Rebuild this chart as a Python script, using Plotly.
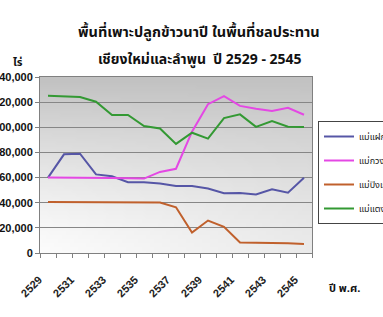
import base64, struct, zlib
import numpy as np
import plotly.graph_objects as go

years = list(range(2529, 2546))
mae_faek = [60000, 78500, 79000, 62500, 61000, 56300, 56300, 55200, 53300, 53300, 51300, 47500, 47700, 46600, 50700, 48000, 59800]
mae_kuang = [60000, 60000, 60000, 59800, 59600, 59400, 59200, 64500, 67000, 96500, 118400, 124800, 117000, 114700, 113000, 115500, 110000]
mae_ping_kao = [40500, 40500, 40500, 40300, 40200, 40200, 40300, 40200, 36400, 16300, 25800, 20800, 8300, 8300, 8300, 7700, 7200]
mae_taeng = [125000, 124500, 124000, 120300, 109800, 109800, 101000, 99000, 86800, 95700, 91000, 107300, 110300, 100300, 105000, 100400, 100200]
names = ["แม่แฝกใหม่", "แม่กวง", "แม่ปิงเก่า", "แม่แตง"]
colors = ["#5656a6", "#e448e4", "#c0602c", "#339933"]
yticks = list(range(0, 140001, 20000))
xlabels = years[::2]

# background gradient image for plot area
W, H = 68, 44
xs = np.linspace(0, 1, W)[None, :]
ys = np.linspace(0, 1, H)[:, None]
b = 252 - 58 * (1 - ys) ** 1.3 - 18 * xs * ys
b = np.clip(b, 0, 255).astype(np.uint8)
raw = b"".join(b"\x00" + bytes(np.repeat(row, 3)) for row in b)
def chunk(t, d):
    c = struct.pack(">I", len(d)) + t + d
    return c + struct.pack(">I", zlib.crc32(t + d) & 0xffffffff)
png = b"\x89PNG\r\n\x1a\n" + chunk(b"IHDR", struct.pack(">IIBBBBB", W, H, 8, 2, 0, 0, 0)) + chunk(b"IDAT", zlib.compress(raw)) + chunk(b"IEND", b"")
src = "data:image/png;base64," + base64.b64encode(png).decode()

thai = "Noto Sans Thai, Tahoma, Loma, sans-serif"
fig = go.Figure()
for n, vals, c in zip(names, [mae_faek, mae_kuang, mae_ping_kao, mae_taeng], colors):
    fig.add_trace(go.Scatter(x=years, y=vals, name=n, mode="lines",
                             line=dict(color=c, width=2), legendgroup=n))

fig.update_layout(
    width=383, height=317,
    margin=dict(l=40, r=71, t=77, b=64, autoexpand=False),
    paper_bgcolor="white", plot_bgcolor="white",
    showlegend=True,
    images=[dict(source=src, xref="paper", yref="paper", x=0, y=1, sizex=1, sizey=1,
                 sizing="stretch", layer="below", xanchor="left", yanchor="top")],
    legend=dict(x=(318 - 40) / 272, y=(253 - 121) / 176, xanchor="left", yanchor="top",
                bordercolor="#444444", borderwidth=1, bgcolor="white",
                font=dict(family=thai, size=9, color="#222222"),
                tracegroupgap=5, itemwidth=30),
    xaxis=dict(range=[2528.5, 2545.5], tickvals=xlabels, ticktext=[str(v) for v in xlabels],
               tickangle=-45, ticks="", showgrid=False, zeroline=False,
               showline=True, linecolor="#808080", mirror=True,
               ticklabelstandoff=15, ticklabelshift=-9,
               tickfont=dict(family="Liberation Sans", size=11, color="#222222", weight="bold"),
               minor=dict(tick0=2528.5, dtick=1, ticks="outside", ticklen=4, tickcolor="#808080", showgrid=False)),
    yaxis=dict(range=[0, 140000], tickvals=yticks, tickformat=",", ticks="outside", ticklen=4,
               tickcolor="#808080", showgrid=True, gridcolor="#868686", gridwidth=1,
               zeroline=False, showline=True, linecolor="#808080", mirror=True,
               tickfont=dict(family="Liberation Sans", size=11, color="#111111", weight="bold")),
    annotations=[
        dict(text="พื้นที่เพาะปลูกข้าวนาปี ในพื้นที่ชลประทาน", xref="paper", yref="paper",
             x=(199 - 40) / 272, y=(253 - 32) / 176, xanchor="center", yanchor="middle", showarrow=False,
             font=dict(family=thai, size=14.5, color="#111111", weight="bold")),
        dict(text="เชียงใหม่และลำพูน  ปี 2529 - 2545", xref="paper", yref="paper",
             x=(200 - 40) / 272, y=(253 - 60) / 176, xanchor="center", yanchor="middle", showarrow=False,
             font=dict(family=thai, size=14, color="#111111", weight="bold")),
        dict(text="ไร่", xref="paper", yref="paper", x=(18 - 40) / 272, y=(253 - 62) / 176,
             xanchor="center", yanchor="middle", showarrow=False,
             font=dict(family=thai, size=11, color="#111111", weight="bold")),
        dict(text="ปี พ.ศ.", xref="paper", yref="paper", x=(344 - 40) / 272, y=(253 - 288) / 176,
             xanchor="center", yanchor="middle", showarrow=False,
             font=dict(family=thai, size=11, color="#111111", weight="bold")),
    ],
)
fig.write_html("out.html", config={"displayModeBar": False},
               post_script="document.body.style.margin='0';document.body.style.padding='0';")
